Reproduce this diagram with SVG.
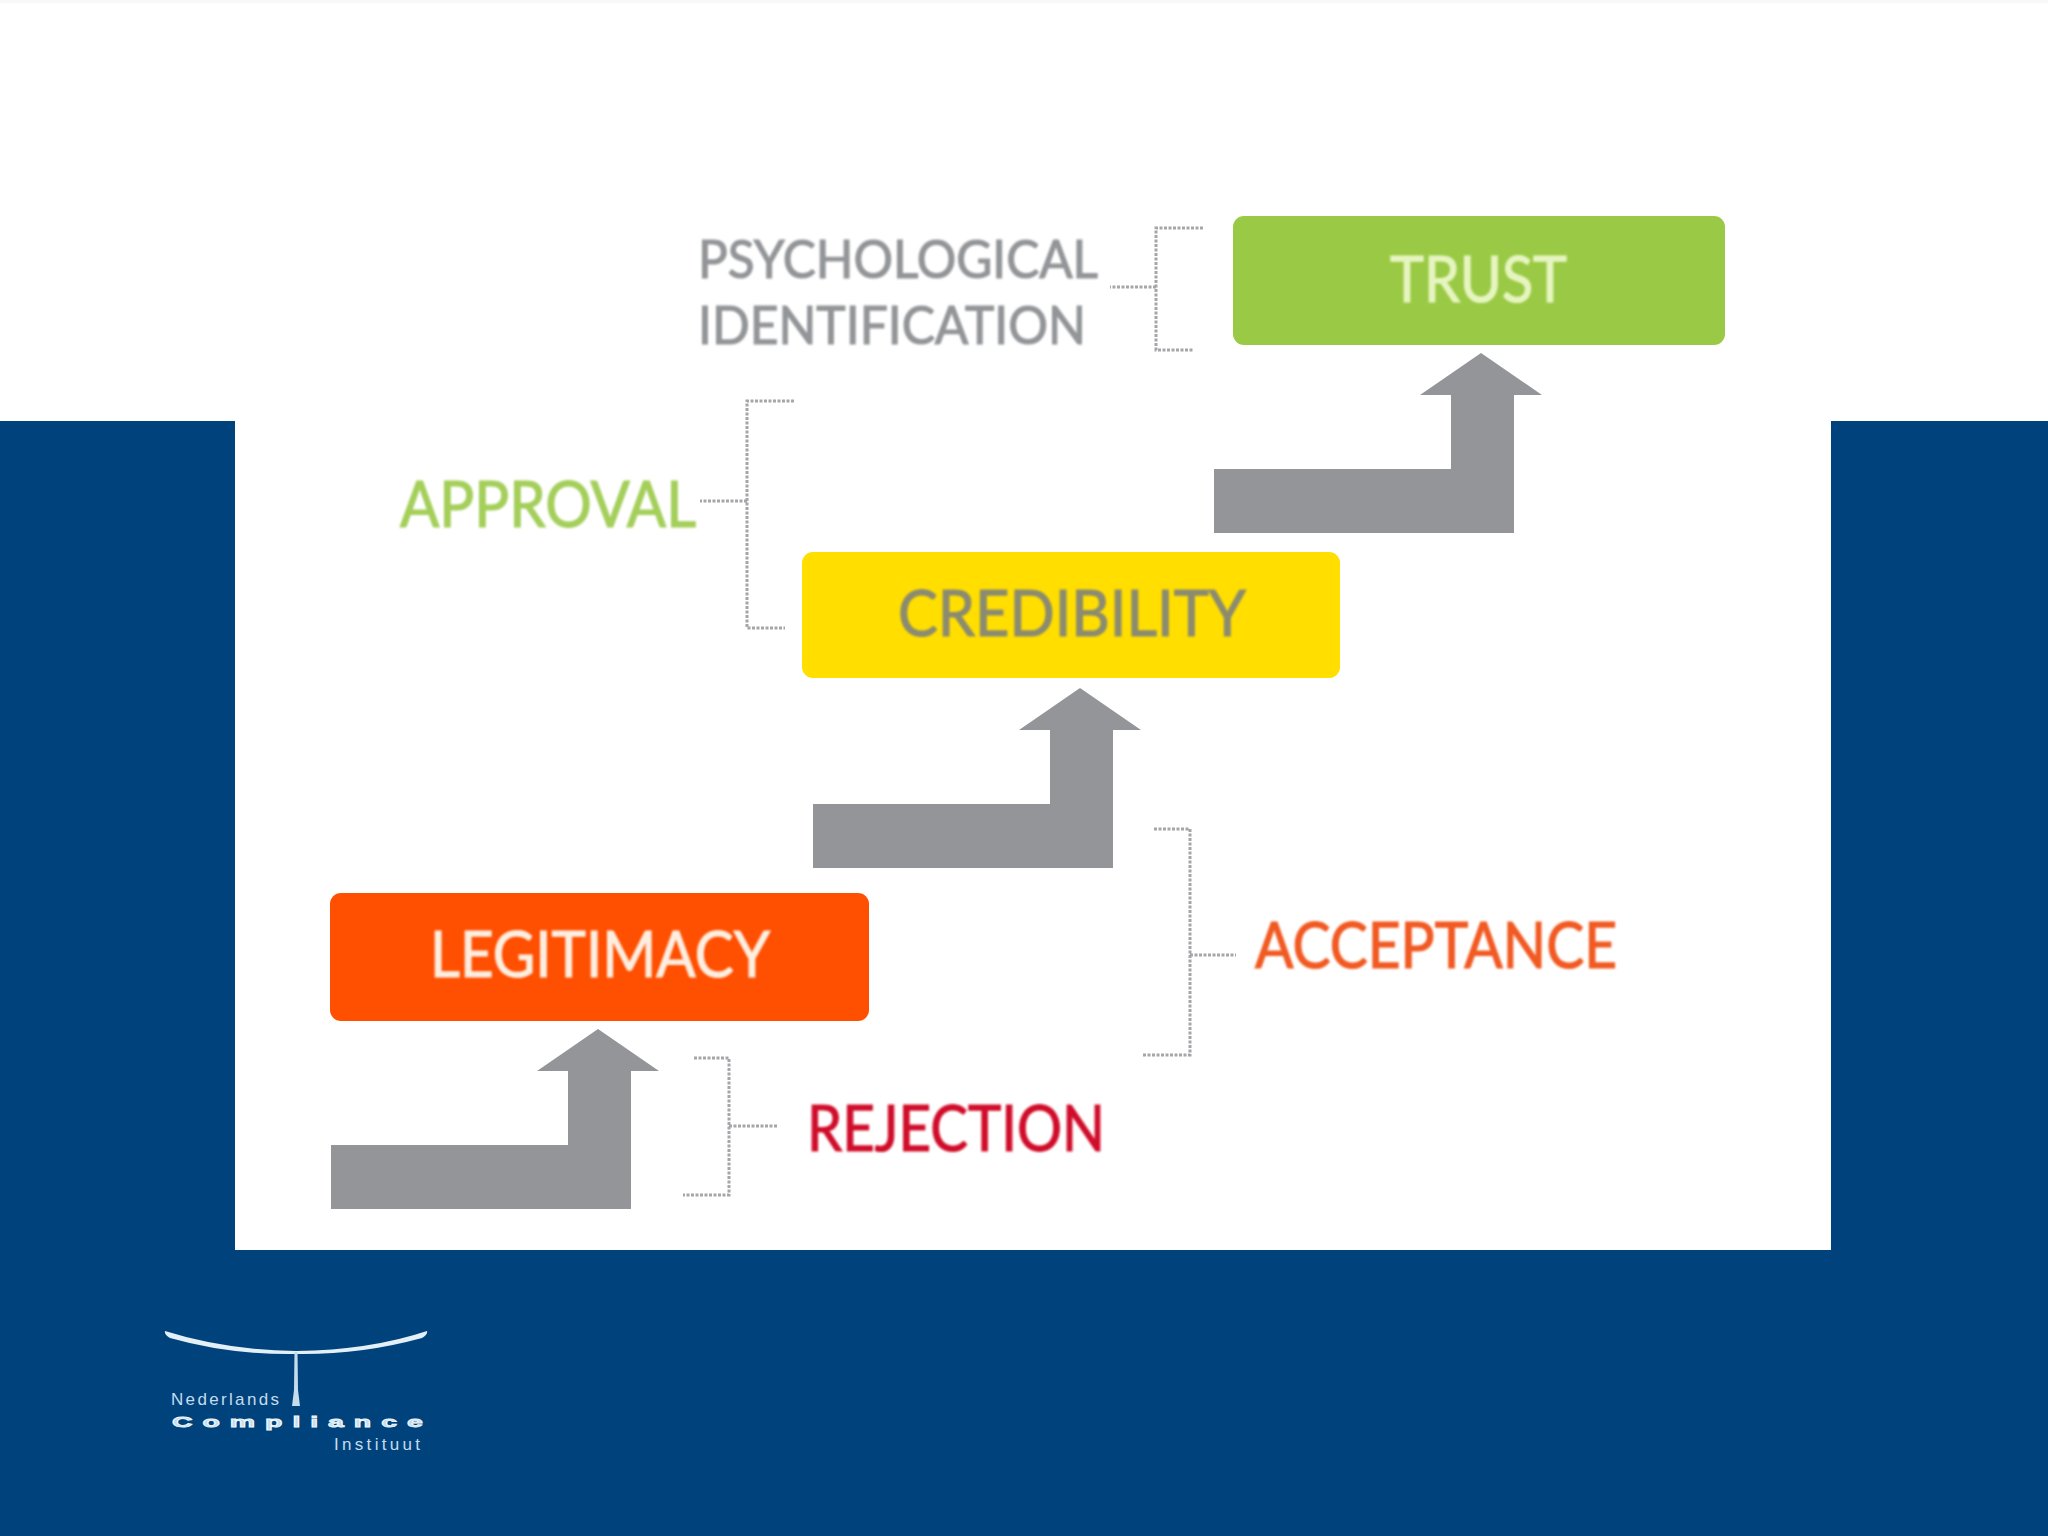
<svg xmlns="http://www.w3.org/2000/svg" width="2048" height="1536" viewBox="0 0 2048 1536">
<style>
.t{font-family:"Lato","Open Sans",sans-serif;font-weight:400;filter:url(#soft);stroke-width:1.2}
.b{fill:none;stroke:#a5a6a9;stroke-width:3;stroke-dasharray:3 1.5}
.arrow{fill:#939598}
.l{font-family:"Liberation Sans",sans-serif;fill:#c4dcee}
</style>
<defs>
<filter id="soft" x="-5%" y="-20%" width="110%" height="140%"><feGaussianBlur stdDeviation="1"/></filter>
<path id="a" d="M0 116H237V42H206L267 0L328 42H300V180H0Z"/>
</defs>
<rect width="2048" height="1536" fill="#fff"/>
<rect width="2048" height="3" fill="#f8f8f8"/>
<path d="M0 421H235V1250H1831V421H2048V1536H0Z" fill="#00437c"/>
<g id="connectors">
<use href="#a" class="arrow" x="331" y="1029"/>
<use href="#a" class="arrow" x="813" y="688"/>
<use href="#a" class="arrow" x="1214" y="353"/>
<path class="b" d="M1203 228H1156V350H1194M1156 287H1110"/>
<path class="b" d="M794 401H747V628H785M747 501H700"/>
<path class="b" d="M1154 829H1190V1055H1142M1190 955H1236"/>
<path class="b" d="M694 1058H729V1195H683M729 1126H778"/>
</g>
<g id="trust"><rect x="1233" y="216" width="492" height="129" rx="11" fill="#9aca45"/><text class="t" x="1390" y="302" font-size="63" fill="#e6f5c0" stroke="#e6f5c0" textLength="177" lengthAdjust="spacingAndGlyphs">TRUST</text></g>
<g id="credibility"><rect x="802" y="552" width="538" height="126" rx="11" fill="#ffde00"/><text class="t" x="898" y="636" font-size="63" fill="#8b8b70" stroke="#8b8b70" textLength="348" lengthAdjust="spacingAndGlyphs">CREDIBILITY</text></g>
<g id="legitimacy"><rect x="330" y="893" width="539" height="128" rx="11" fill="#ff4f00"/><text class="t" x="430" y="977" font-size="63" fill="#ffeee0" stroke="#ffeee0" textLength="340" lengthAdjust="spacingAndGlyphs">LEGITIMACY</text></g>
<g id="psychological"><text class="t" x="698" y="278" font-size="53" fill="#939598" stroke="#939598" textLength="400" lengthAdjust="spacingAndGlyphs">PSYCHOLOGICAL</text><text class="t" x="698" y="344" font-size="53" fill="#939598" stroke="#939598" textLength="388" lengthAdjust="spacingAndGlyphs">IDENTIFICATION</text></g>
<g id="approval"><text class="t" x="400" y="527" font-size="63" fill="#a4cf5a" stroke="#a4cf5a" textLength="296" lengthAdjust="spacingAndGlyphs">APPROVAL</text></g>
<g id="acceptance"><text class="t" x="1255" y="968" font-size="63" fill="#f15a22" stroke="#f15a22" textLength="362" lengthAdjust="spacingAndGlyphs">ACCEPTANCE</text></g>
<g id="rejection"><text class="t" x="807" y="1151" font-size="63" fill="#d0112b" stroke="#d0112b" textLength="298" lengthAdjust="spacingAndGlyphs">REJECTION</text></g>
<g id="logo">
<path d="M165 1331Q225 1350 296 1351Q370 1350 427 1331Q428 1335 422 1338Q360 1355 296 1354Q230 1355 170 1338Q164 1335 165 1331Z" fill="#e4f0f8"/>
<path d="M294.500 1352H297.500L298 1390L300 1406H292L294 1390Z" fill="#c4dcee"/>
<text class="l" x="171" y="1405" font-size="17" letter-spacing="1" textLength="109">Nederlands</text>
<text class="l" transform="translate(172 1427) scale(1.9 1)" font-size="15" font-weight="700" fill="#eef6fb" stroke="#eef6fb" stroke-width=".8" textLength="132" lengthAdjust="spacing">Compliance</text>
<text class="l" x="334" y="1450" font-size="17" letter-spacing="1" textLength="87">Instituut</text>
</g>
</svg>
